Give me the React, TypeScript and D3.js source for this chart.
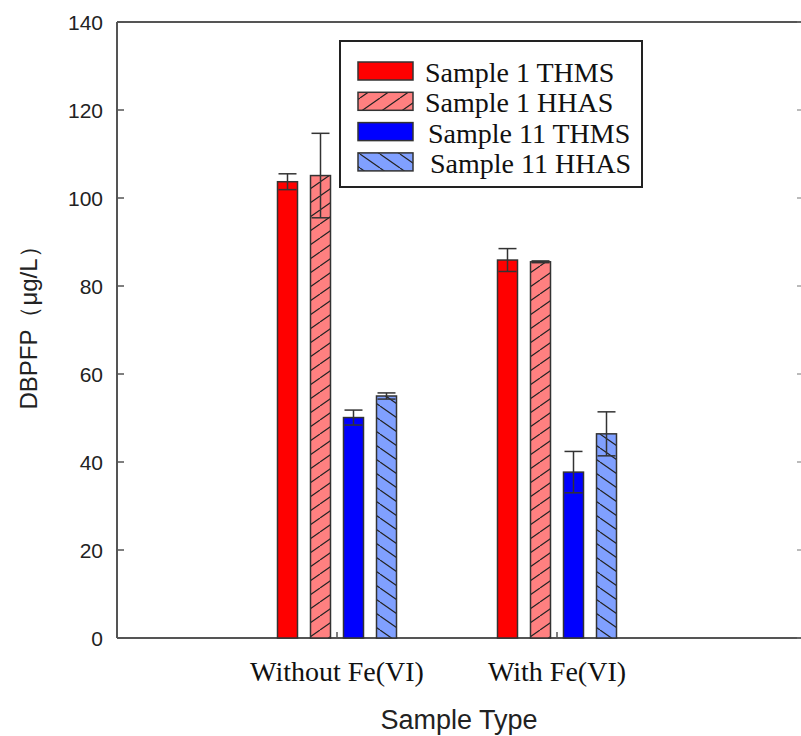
import React from "react";
import * as d3 from "d3";

const categories = ["Without Fe(VI)", "With Fe(VI)"];
const seriesNames = ["Sample 1 THMS", "Sample 1 HHAS", "Sample 11 THMS", "Sample 11 HHAS"];
const s1Thms = [103.7, 85.9];
const s1Hhas = [105.1, 85.5];
const s11Thms = [50.1, 37.7];
const s11Hhas = [55.0, 46.4];
const s1ThmsErr = [1.8, 2.6];
const s1HhasErr = [9.6, 0.2];
const s11ThmsErr = [1.7, 4.7];
const s11HhasErr = [0.7, 5.0];
const yTicks = [0, 20, 40, 60, 80, 100, 120, 140];

const seriesValues = [s1Thms, s1Hhas, s11Thms, s11Hhas];
const seriesErrs = [s1ThmsErr, s1HhasErr, s11ThmsErr, s11HhasErr];
const fills = ["#ff0000", "url(#hatchFwd)", "#0000ff", "url(#hatchBack)"];

const W = 801;
const H = 736;
const left = 117;
const top = 22;
const bottom = 638;
const right = 801;

export default function App() {
  const y = d3.scaleLinear().domain([0, 140]).range([bottom, top]);
  const x = d3.scaleLinear().domain([0, 3]).range([left, 777]);
  const inner = d3.scaleBand<number>().domain([0, 1, 2, 3]).range([-66, 66]);
  const barW = 20;
  const sans = "'Liberation Sans', Arial, sans-serif";
  const serif = "'Liberation Serif', 'Times New Roman', serif";

  return (
    <svg width={W} height={H} style={{ position: "absolute", left: 0, top: 0, background: "#fff" }}>
      <defs>
        <pattern id="hatchFwd" patternUnits="userSpaceOnUse" width={20} height={14}>
          <rect width={20} height={14} fill="#ff8080" />
          <path d="M-20,14 L0,0 M0,14 L20,0 M20,14 L40,0" stroke="#222" strokeWidth={1.2} />
        </pattern>
        <pattern id="hatchBack" patternUnits="userSpaceOnUse" width={20} height={14}>
          <rect width={20} height={14} fill="#80a0ff" />
          <path d="M-20,0 L0,14 M0,0 L20,14 M20,0 L40,14" stroke="#222" strokeWidth={1.2} />
        </pattern>
      </defs>

      {/* frame */}
      <line x1={left} x2={right} y1={top} y2={top} stroke="#555" strokeWidth={2} />
      <line x1={left} x2={right} y1={bottom} y2={bottom} stroke="#555" strokeWidth={2} />
      <line x1={left} x2={left} y1={top} y2={bottom} stroke="#555" strokeWidth={2} />

      {/* y ticks */}
      {yTicks.map((t) => (
        <g key={t}>
          <line x1={left} x2={left + 7} y1={y(t)} y2={y(t)} stroke="#555" strokeWidth={1.5} />
          <line x1={right - 4} x2={right} y1={y(t)} y2={y(t)} stroke="#777" strokeWidth={1} />
          <text x={103} y={y(t)} dy="0.36em" textAnchor="end" fontFamily={sans} fontSize={21} fill="#222">
            {t}
          </text>
        </g>
      ))}

      {/* x category ticks */}
      {categories.map((c, i) => (
        <g key={c}>
          <line x1={x(i + 1)} x2={x(i + 1)} y1={bottom} y2={bottom - 6} stroke="#555" strokeWidth={1.5} />
          <text x={x(i + 1)} y={681} textAnchor="middle" fontFamily={serif} fontSize={28} fill="#111">
            {c}
          </text>
        </g>
      ))}

      {/* bars */}
      {categories.map((c, i) =>
        seriesValues.map((vals, s) => {
          const cx = x(i + 1) + (inner(s) as number) + inner.bandwidth() / 2;
          const v = vals[i];
          const e = seriesErrs[s][i];
          return (
            <g key={c + s}>
              <rect
                x={cx - barW / 2}
                y={y(v)}
                width={barW}
                height={y(0) - y(v)}
                fill={fills[s]}
                stroke="#333"
                strokeWidth={1.5}
              />
              <line x1={cx} x2={cx} y1={y(v + e)} y2={y(v - e)} stroke="#333" strokeWidth={1.5} />
              <line x1={cx - 9} x2={cx + 9} y1={y(v + e)} y2={y(v + e)} stroke="#333" strokeWidth={1.5} />
              <line x1={cx - 9} x2={cx + 9} y1={y(v - e)} y2={y(v - e)} stroke="#333" strokeWidth={1.5} />
            </g>
          );
        })
      )}

      {/* legend */}
      <rect x={340} y={41} width={302} height={146} fill="#fff" stroke="#222" strokeWidth={2} />
      {seriesNames.map((n, s) => {
        const cy = 71 + s * 30.3;
        return (
          <g key={n}>
            <rect x={358} y={cy - 9} width={55} height={18} fill={fills[s]} stroke="#333" strokeWidth={1.5} />
            <text x={425 + (s >= 2 ? 3 + (s - 2) * 2 : 0)} y={cy + 11} fontFamily={serif} fontSize={28} fill="#111">
              {n}
            </text>
          </g>
        );
      })}

      {/* axis titles */}
      <text x={459} y={729} textAnchor="middle" fontFamily={sans} fontSize={27} fill="#222">
        Sample Type
      </text>
      <text
        transform={`translate(37, 322) rotate(-90)`}
        textAnchor="middle"
        fontFamily={sans}
        fontSize={24}
        fill="#222"
      >
        DBPFP（μg/L）
      </text>
    </svg>
  );
}
